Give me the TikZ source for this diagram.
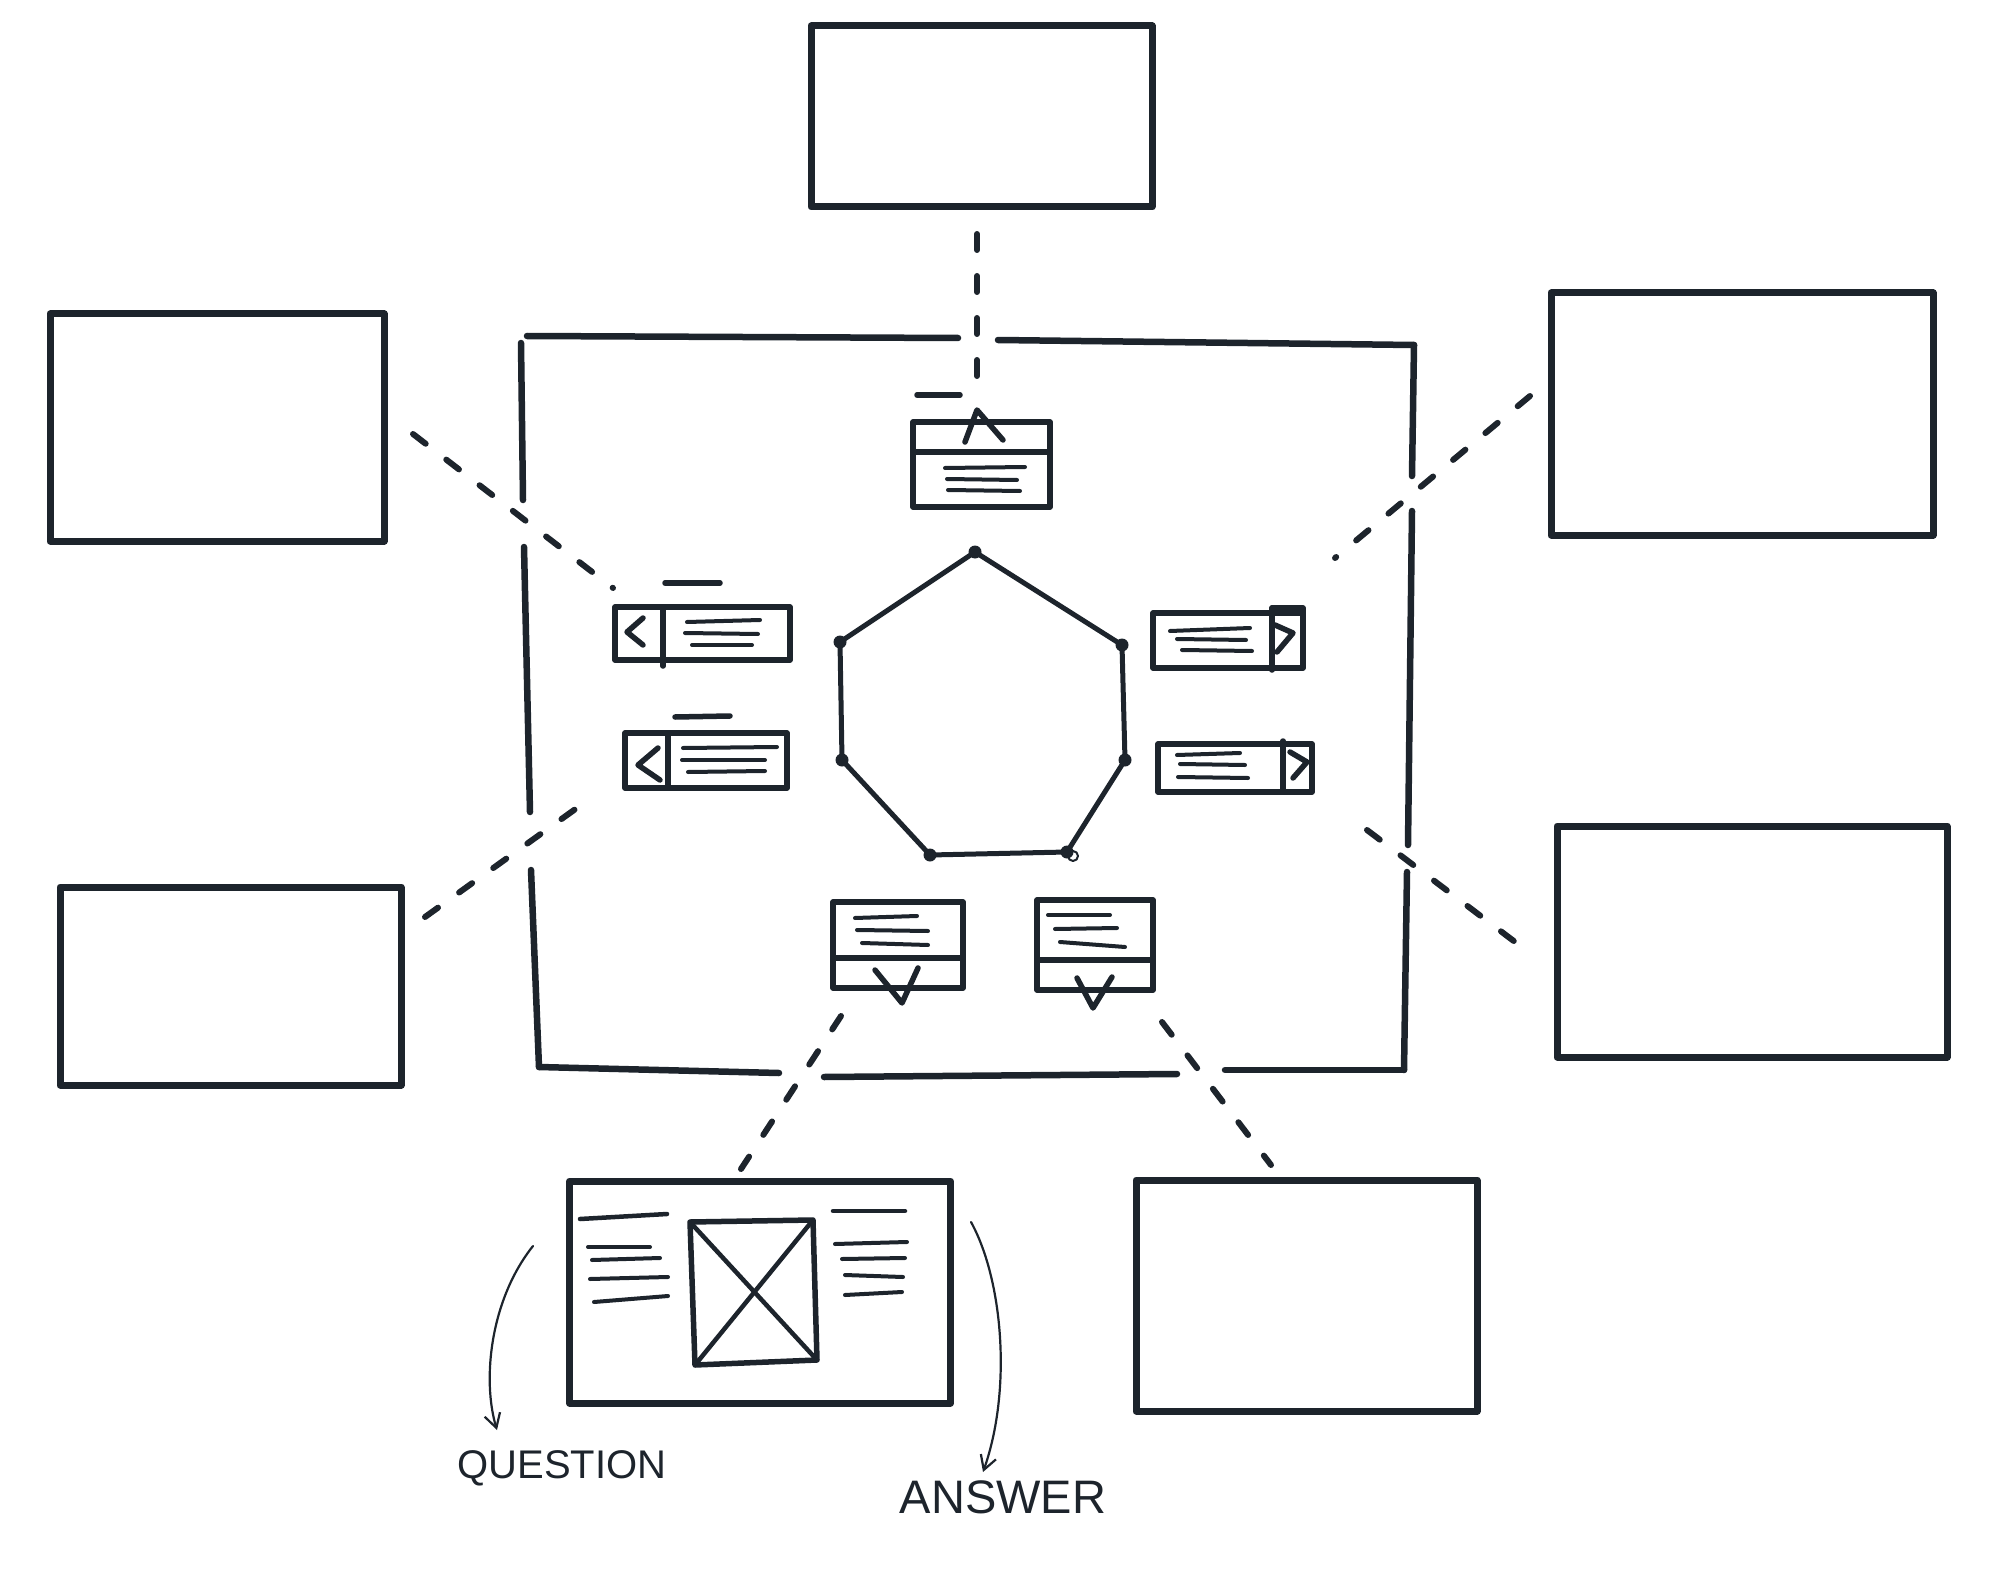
\documentclass[tikz,border=0pt]{standalone}
\usepackage{fontspec}
\setmainfont{Liberation Sans}
\usetikzlibrary{arrows.meta}
\definecolor{ink}{HTML}{1D242C}
\begin{document}
\begin{tikzpicture}[x=1pt,y=-1pt, line join=round, line cap=round,
  bigbox/.style={draw=ink, line width=7pt, rectangle, inner sep=0pt},
  frameline/.style={draw=ink, line width=6.5pt},
  dashlink/.style={draw=ink, line width=6pt, dash pattern=on 16pt off 26pt},
  tabbox/.style={draw=ink, line width=5.5pt},
  txt/.style={draw=ink, line width=4pt},
  heptline/.style={draw=ink, line width=5pt},
  vdot/.style={circle, fill=ink, inner sep=0pt, minimum size=13pt},
  note/.style={draw=ink, line width=2.2pt, -{Straight Barb[length=14pt,width=16pt,line width=2.2pt]}},
  lbl/.style={text=ink, inner sep=0pt}
]
\useasboundingbox (0,0) rectangle (2003,1570);

% outer boxes
\node[bigbox, minimum width=341pt, minimum height=181pt] (top) at (981.5,116.5) {};
\node[bigbox, minimum width=334pt, minimum height=227pt] (lt) at (217,427.5) {};
\node[bigbox, minimum width=341pt, minimum height=198pt] (lb) at (230.5,986) {};
\node[bigbox, minimum width=382pt, minimum height=242pt] (rt) at (1742,414) {};
\node[bigbox, minimum width=390pt, minimum height=231pt] (rb) at (1752,941.5) {};
\node[bigbox, minimum width=341pt, minimum height=231pt] (br) at (1306.5,1295.5) {};
\node[bigbox, minimum width=381pt, minimum height=222pt] (qa) at (760,1292) {};

% central frame with gaps
\draw[frameline] (527,336) -- (958,338);
\draw[frameline] (998,340) -- (1414,345);
\draw[frameline] (521,343) -- (523,500);
\draw[frameline] (524,547) -- (530,812);
\draw[frameline] (531,870) -- (539,1067);
\draw[frameline] (1414,345) -- (1412,476);
\draw[frameline] (1412,511) -- (1408,845);
\draw[frameline] (1407,872) -- (1404,1070);
\draw[frameline] (539,1067) -- (779,1073);
\draw[frameline] (824,1077) -- (1177,1074);
\draw[frameline] (1225,1070) -- (1404,1070);

% dashed connectors
\coordinate (dT1) at (977,234);   \coordinate (dT2) at (977,402);
\coordinate (dLT1) at (413,434);  \coordinate (dLT2) at (613,588);
\coordinate (dLB1) at (425,917);  \coordinate (dLB2) at (588,800);
\coordinate (dRT1) at (1530,396); \coordinate (dRT2) at (1335,558);
\coordinate (dRB1) at (1367,830); \coordinate (dRB2) at (1523,948);
\coordinate (dBL1) at (841,1016); \coordinate (dBL2) at (741,1169);
\coordinate (dBR1) at (1162,1022);\coordinate (dBR2) at (1271,1165);
\draw[dashlink] (dT1) -- (dT2);
\draw[dashlink] (dLT1) -- (dLT2);
\draw[dashlink] (dLB1) -- (dLB2);
\draw[dashlink] (dRT1) -- (dRT2);
\draw[dashlink] (dRB1) -- (dRB2);
\draw[dashlink] (dBL1) -- (dBL2);
\draw[dashlink] (dBR1) -- (dBR2);

% heptagon
\node[vdot] (v1) at (975,552) {};
\node[vdot] (v2) at (1122,645) {};
\node[vdot] (v3) at (1125,760) {};
\node[vdot] (v4) at (1067,852) {};
\node[vdot] (v5) at (930,855) {};
\node[vdot] (v6) at (842,760) {};
\node[vdot] (v7) at (840,642) {};
\draw[heptline] (v1.center) -- (v2.center) -- (v3.center) -- (v4.center) -- (v5.center) -- (v6.center) -- (v7.center) -- cycle;
\draw[ink, line width=2pt] (1073,856) circle (5pt);

% top tab
\draw[tabbox] (913,422) rectangle (1050,507);
\draw[tabbox] (913,452) -- (1050,452);
\draw[tabbox] (965,442) -- (977,410) -- (1003,440);
\draw[tabbox] (917,395) -- (960,395);
\draw[txt] (945,468) -- (1025,467);
\draw[txt] (947,479) -- (1017,480);
\draw[txt] (948,490) -- (1020,491);

% left tab 1
\draw[tabbox] (615,607) rectangle (790,660);
\draw[tabbox] (663,607) -- (663,666);
\draw[tabbox] (643,618) -- (627,632) -- (643,645);
\draw[tabbox] (665,583) -- (720,583);
\draw[txt] (687,622) -- (760,620);
\draw[txt] (685,633) -- (758,634);
\draw[txt] (692,645) -- (752,645);

% left tab 2
\draw[tabbox] (625,733) rectangle (787,788);
\draw[tabbox] (668,733) -- (668,788);
\draw[tabbox] (658,748) -- (638,765) -- (660,780);
\draw[tabbox] (675,717) -- (730,716);
\draw[txt] (683,748) -- (777,747);
\draw[txt] (682,760) -- (765,760);
\draw[txt] (688,772) -- (765,771);

% right tab 1
\draw[tabbox] (1153,613) rectangle (1303,668);
\draw[tabbox] (1272,608) -- (1272,670);
\draw[tabbox] (1272,608) -- (1303,608) -- (1303,613);
\draw[tabbox] (1275,625) -- (1293,633) -- (1277,652);
\draw[txt] (1170,631) -- (1250,628);
\draw[txt] (1177,639) -- (1246,640);
\draw[txt] (1182,650) -- (1252,651);

% right tab 2
\draw[tabbox] (1158,744) rectangle (1312,792);
\draw[tabbox] (1283,741) -- (1283,792);
\draw[tabbox] (1290,752) -- (1307,762) -- (1293,778);
\draw[txt] (1177,755) -- (1240,753);
\draw[txt] (1180,764) -- (1245,765);
\draw[txt] (1178,777) -- (1248,778);

% bottom tab left
\draw[tabbox] (833,902) rectangle (963,988);
\draw[tabbox] (833,958) -- (963,958);
\draw[tabbox] (875,970) -- (902,1003) -- (918,968);
\draw[txt] (855,918) -- (917,916);
\draw[txt] (857,930) -- (928,931);
\draw[txt] (862,943) -- (928,945);

% bottom tab right
\draw[tabbox] (1037,900) rectangle (1153,990);
\draw[tabbox] (1037,960) -- (1153,960);
\draw[tabbox] (1077,978) -- (1093,1008) -- (1112,977);
\draw[txt] (1048,915) -- (1110,915);
\draw[txt] (1055,929) -- (1117,928);
\draw[txt] (1060,942) -- (1125,947);

% question/answer box internals
\draw[tabbox] (690,1222) -- (813,1220) -- (817,1360) -- (695,1365) -- cycle;
\draw[draw=ink, line width=4.5pt] (690,1222) -- (817,1360);
\draw[draw=ink, line width=4.5pt] (813,1220) -- (695,1365);
\draw[txt, line width=4.5pt] (580,1219) -- (667,1214);
\draw[txt] (588,1247) -- (650,1247);
\draw[txt] (592,1260) -- (660,1258);
\draw[txt] (590,1279) -- (668,1277);
\draw[txt] (594,1302) -- (668,1296);
\draw[txt, line width=4.5pt] (833,1211) -- (905,1211);
\draw[txt] (835,1244) -- (907,1242);
\draw[txt] (842,1259) -- (905,1258);
\draw[txt] (845,1275) -- (903,1277);
\draw[txt] (845,1295) -- (902,1292);

% annotations
\coordinate (qs) at (533,1246);
\coordinate (qe) at (497,1430);
\coordinate (as) at (971,1222);
\coordinate (ae) at (983,1472);
\draw[note] (qs) .. controls (490,1300) and (482,1380) .. (qe);
\draw[note] (as) .. controls (1003,1280) and (1012,1390) .. (ae);
\node[lbl, font=\fontsize{40}{40}\selectfont] (qlabel) at (562,1468) {QUESTION};
\node[lbl, font=\fontsize{47}{47}\selectfont] (alabel) at (1003,1497) {ANSWER};
\end{tikzpicture}
\end{document}
